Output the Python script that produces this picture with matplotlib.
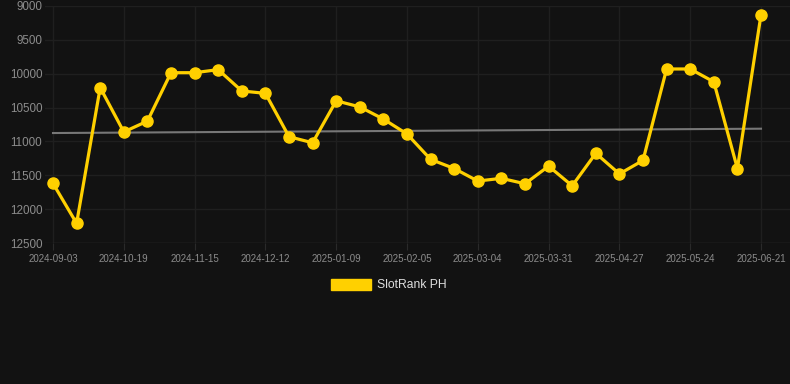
import matplotlib
matplotlib.use("Agg")
import matplotlib.pyplot as plt
import matplotlib.patches as mpatches
import numpy as np

rank = [11620, 12210, 10205, 10860, 10700, 9985, 9985, 9940, 10255, 10290,
        10930, 11020, 10400, 10490, 10670, 10890, 11265, 11400, 11585, 11545,
        11625, 11365, 11655, 11175, 11480, 11280, 9930, 9930, 10120, 11400, 9130]
trend_ends = [10876, 10812]
tick_labels = ["2024-09-03", "2024-10-19", "2024-11-15", "2024-12-12", "2025-01-09",
               "2025-02-05", "2025-03-04", "2025-03-31", "2025-04-27", "2025-05-24",
               "2025-06-21"]
series_name = "SlotRank PH"

bg = "#121212"
gold = "#FFD000"

W, H = 790, 384
fig = plt.figure(figsize=(W / 100, H / 100), dpi=100, facecolor=bg)
left_px, right_px, top_px, bot_px = 45, 790, 6, 243
ax = fig.add_axes([left_px / W, 1 - bot_px / H, (right_px - left_px) / W, (bot_px - top_px) / H])
ax.set_facecolor(bg)

x = np.arange(len(rank))
ax.plot(x, rank, color=gold, lw=2.3, marker="o", ms=8, zorder=3)

ax.plot([x[0], x[-1]], trend_ends, color="#777777", lw=1.5, zorder=2)

step = 23.6
ax.set_xlim(-(53 - left_px) / step, 30 + (right_px - 761) / step)
ax.set_ylim(12500, 9000)
ax.set_yticks(np.arange(9000, 12501, 500))
ax.set_xticks(x[::3])
ax.set_xticklabels(tick_labels)

for s in ax.spines.values():
    s.set_visible(False)
ax.grid(True, color="#1f1f1f", lw=1)
ax.axhline(12500, color="#2a2a2a", lw=1, xmin=(53 - left_px) / (right_px - left_px))
ax.tick_params(axis="y", length=0, pad=2, labelsize=8.4, labelcolor="#8c8c8c")
ax.tick_params(axis="x", length=5, color="#2a2a2a", pad=3, labelsize=7, labelcolor="#8c8c8c")
for lbl in ax.get_xticklabels() + ax.get_yticklabels():
    lbl.set_fontfamily("Liberation Sans")

handle = mpatches.Patch(color=gold, label=series_name)
leg = fig.legend(handles=[handle], loc="center", bbox_to_anchor=(389 / W, 1 - 285 / H),
                 frameon=False, handlelength=3.3, handleheight=1.0, handletextpad=0.5,
                 prop={"family": "Liberation Sans", "size": 8.7})
for t in leg.get_texts():
    t.set_color("#dddddd")

fig.savefig("out.png", dpi=100, facecolor=bg)
